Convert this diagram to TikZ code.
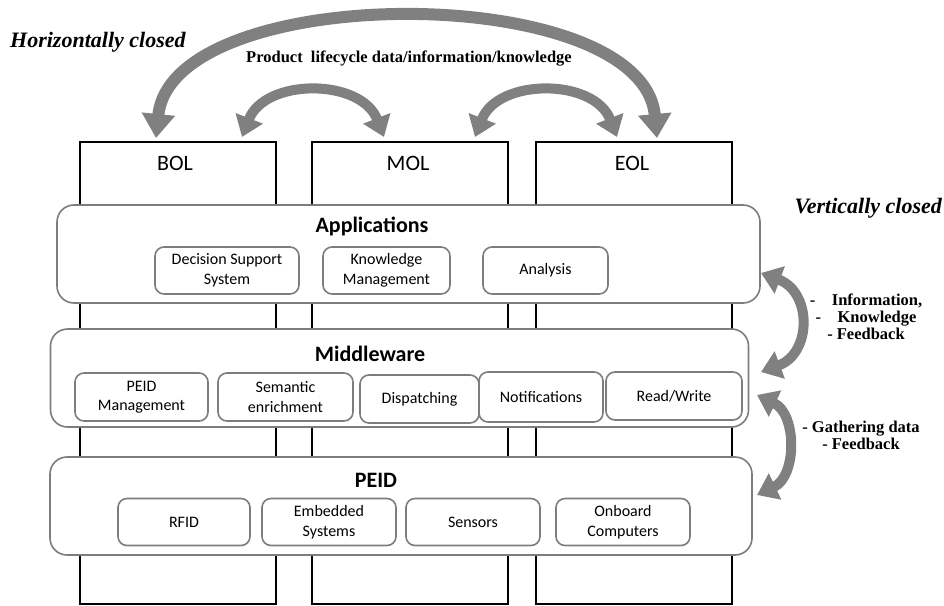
\documentclass[tikz,border=0pt]{standalone}
\usepackage{fontspec}
\setmainfont{Carlito}
\newfontfamily\serifface{Liberation Serif}
\usetikzlibrary{arrows.meta}
\definecolor{arrowgray}{RGB}{128,128,128}
\definecolor{boxgray}{RGB}{125,125,125}
\begin{document}
\begin{tikzpicture}[x=1pt,y=-1pt,
  colbox/.style={draw=black,line width=1.8pt,minimum width=196pt,minimum height=462pt,anchor=north west,inner sep=0pt},
  collabel/.style={font=\fontsize{22}{24}\selectfont,inner sep=0pt},
  layer/.style={draw=boxgray,line width=1.6pt,rounded corners=17pt,fill=white,inner sep=0pt,minimum height=98pt},
  layertitle/.style={font=\fontsize{22}{24}\selectfont\bfseries,inner sep=0pt},
  item/.style={draw=boxgray,line width=1.6pt,rounded corners=9pt,fill=white,align=center,inner sep=0pt,font=\fontsize{16}{19.5}\selectfont},
  bigarrow/.style={draw=arrowgray,line width=12pt,{Triangle[length=24pt,width=32pt]}-{Triangle[length=24pt,width=32pt]}},
  smallarrow/.style={draw=arrowgray,line width=10pt,{Triangle[length=20pt,width=28pt]}-{Triangle[length=20pt,width=28pt]}},
  note/.style={font=\serifface\bfseries\fontsize{16.5}{17}\selectfont,align=center,inner sep=0pt},
  heading/.style={font=\serifface\bfseries\itshape\fontsize{22}{24}\selectfont,inner sep=0pt}
]
\useasboundingbox[fill=white] (0,0) rectangle (944,605);

% columns
\node[colbox] (bol) at (79,141) {};
\node[colbox] (mol) at (311,141) {};
\node[colbox] (eol) at (535,141) {};
\node[collabel] (bolt) at (175,163) {BOL};
\node[collabel] (molt) at (408,163) {MOL};
\node[collabel] (eolt) at (632,163) {EOL};

% layers
\node[layer,minimum width=703pt] (app) at (408.5,254) {};
\node[layer,minimum width=698pt] (mid) at (399.5,378) {};
\node[layer,minimum width=702pt] (peid) at (401,506) {};
\node[layertitle] (appt) at (372,226) {Applications};
\node[layertitle] (midt) at (370,354) {Middleware};
\node[layertitle] (peidt) at (376,480) {PEID};

% application items
\node[item,minimum width=144pt,minimum height=47pt] (dss) at (227,270.5) {Decision Support\\System};
\node[item,minimum width=127pt,minimum height=47pt] (km) at (386.5,270.5) {Knowledge\\Management};
\node[item,minimum width=125pt,minimum height=47pt] (ana) at (545.5,270.5) {Analysis};

% middleware items
\node[item,minimum width=133pt,minimum height=48pt] (pm) at (141.5,397) {PEID\\Management};
\node[item,minimum width=135pt,minimum height=48pt] (se) at (285.5,397) {Semantic\\enrichment};
\node[item,minimum width=119pt,minimum height=48pt] (dis) at (419.5,399) {Dispatching};
\node[item,minimum width=124pt,minimum height=50pt] (not) at (541,397) {Notifications};
\node[item,minimum width=136pt,minimum height=48pt] (rw) at (674,396) {Read/Write};

% PEID items
\node[item,minimum width=132pt,minimum height=47pt] (rfid) at (184,522) {RFID};
\node[item,minimum width=134pt,minimum height=47pt] (emb) at (329,522) {Embedded\\Systems};
\node[item,minimum width=134pt,minimum height=47pt] (sen) at (473,522) {Sensors};
\node[item,minimum width=134pt,minimum height=47pt] (onb) at (623,522) {Onboard\\Computers};

% headings and notes
\node[heading,anchor=west] (hc) at (10,42) {Horizontally closed};
\node[heading,anchor=east] (vc) at (942,208) {Vertically closed};
\node[note] (plc) at (409,59) {Product\ \ lifecycle data/information/knowledge};
\node[note,anchor=north] (info) at (866,294) {-\quad Information,\\ -\quad Knowledge\\ - Feedback};
\node[note,anchor=north] (gath) at (861,421) {- Gathering data\\ - Feedback};

% arrow end points
\coordinate (b1) at (156,138);
\coordinate (e1) at (657,138);
\coordinate (b2) at (242,137);
\coordinate (m2) at (384,137);
\coordinate (m3) at (475,137);
\coordinate (e3) at (617,137);
\coordinate (a4) at (761,273);
\coordinate (w4) at (761,372);
\coordinate (w5) at (757,395);
\coordinate (p5) at (757,495);

\draw[bigarrow] (b1) .. controls (172,-20) and (642,-20) .. (e1);
\draw[smallarrow] (b2) .. controls (265,78) and (361,78) .. (m2);
\draw[smallarrow] (m3) .. controls (498,78) and (594,78) .. (e3);
\draw[smallarrow] (a4) .. controls (812,292) and (812,353) .. (w4);
\draw[smallarrow] (w5) .. controls (797,414) and (797,476) .. (p5);
\end{tikzpicture}
\end{document}
